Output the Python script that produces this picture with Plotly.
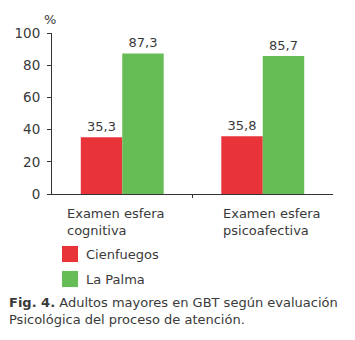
import plotly.graph_objects as go

categories = ["Examen esfera<br>cognitiva", "Examen esfera<br>psicoafectiva"]
series_names = ["Cienfuegos", "La Palma"]
cienfuegos = [35.3, 35.8]
la_palma = [87.3, 85.7]
colors = ["#E83339", "#66BD55"]
y_ticks = [0, 20, 40, 60, 80, 100]

FONT = "DejaVu Sans"
TXT = "#3a3a3a"

fig = go.Figure()
for name, vals, col in zip(series_names, [cienfuegos, la_palma], colors):
    fig.add_trace(go.Bar(
        x=categories, y=vals, name=name, marker_color=col,
        marker_line_width=0,
        texttemplate="%{y:.1f}", textposition="outside",
        textfont=dict(family=FONT, size=13, color=TXT),
        cliponaxis=False, showlegend=False,
    ))

fig.update_layout(
    width=355, height=340,
    margin=dict(l=52, r=22, t=33, b=146),
    paper_bgcolor="white", plot_bgcolor="white",
    barmode="group", bargap=0.41, bargroupgap=0,
    separators=",.",
    font=dict(family=FONT, size=13, color=TXT),
)
fig.update_yaxes(
    range=[0, 100], tickvals=y_ticks, ticks="outside", ticklen=4,
    tickcolor="#333", showline=True, linecolor="#333", linewidth=1,
    showgrid=False, zeroline=False, ticklabelstandoff=4,
    tickfont=dict(family=FONT, size=13.5, color=TXT),
)
fig.update_xaxes(
    showticklabels=False, ticks="", showline=True, linecolor="#333",
    linewidth=1, showgrid=False,
)

# middle tick between categories
fig.add_shape(type="line", xref="x", yref="paper", x0=0.5, x1=0.5,
              ysizemode="pixel", yanchor=0, y0=0, y1=-4,
              line=dict(color="#333", width=1))

# category labels (left aligned)
for xp, lab in zip([0.046, 0.601], categories):
    fig.add_annotation(x=xp, y=-0.06, xref="paper", yref="paper",
                       text=lab, showarrow=False, xanchor="left",
                       yanchor="top", align="left",
                       font=dict(family=FONT, size=13, color=TXT))

# "%" axis title
fig.add_annotation(x=-0.007, y=1.081, xref="paper", yref="paper", text="%",
                   showarrow=False, xanchor="center", yanchor="middle",
                   font=dict(family=FONT, size=13, color=TXT))

# manual legend
leg_y = [-0.3727, -0.528]
for name, col, yc in zip(series_names, colors, leg_y):
    fig.add_shape(type="rect", xref="paper", yref="paper",
                  x0=0.0356, x1=0.0925, y0=yc - 0.05, y1=yc + 0.05,
                  fillcolor=col, line_width=0)
    fig.add_annotation(x=0.1139, y=yc, xref="paper", yref="paper",
                       text=name, showarrow=False, xanchor="left",
                       yanchor="middle",
                       font=dict(family=FONT, size=13, color=TXT))

# caption
fig.add_annotation(
    x=-0.16, y=-0.615, xref="paper", yref="paper",
    text="<b>Fig. 4.</b> Adultos mayores en GBT según evaluación<br>Psicológica del proceso de atención.",
    showarrow=False, xanchor="left", yanchor="top", align="left",
    font=dict(family=FONT, size=13, color=TXT),
)

fig.write_html("out.html")
